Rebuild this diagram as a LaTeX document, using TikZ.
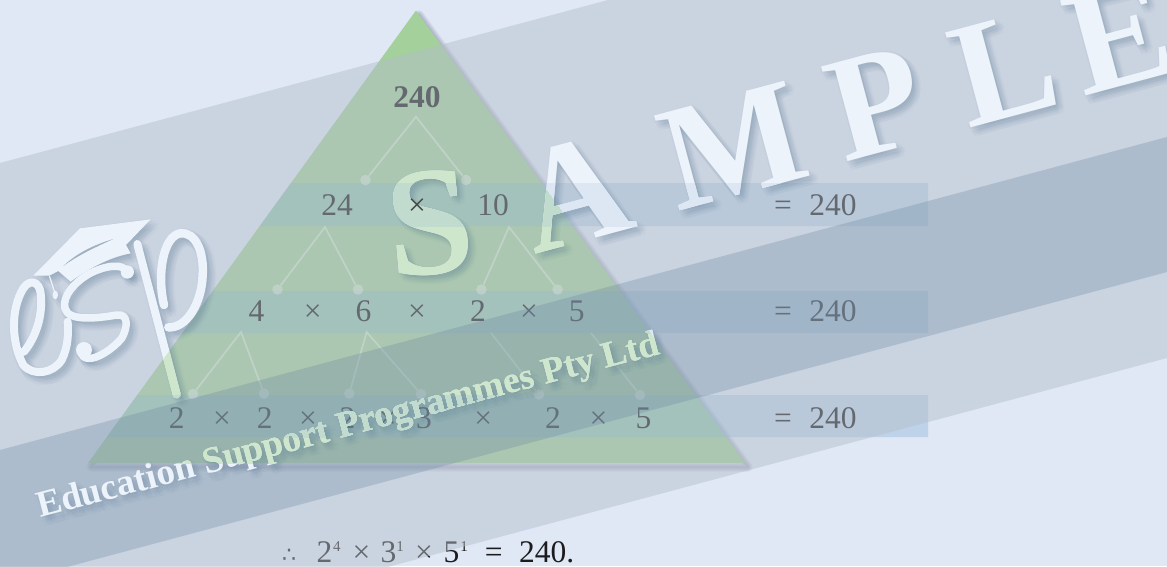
\documentclass[tikz,border=0pt]{standalone}
\usepackage{fontspec}
\setmainfont{Liberation Serif}
\newfontfamily\djv{DejaVu Sans}
\definecolor{pagec}{RGB}{224,231,245}
\definecolor{greenc}{RGB}{163,208,155}
\definecolor{bandc}{RGB}{130,178,217}
\definecolor{ovA}{RGB}{180,191,202}
\definecolor{ovB}{RGB}{105,135,160}
\definecolor{inkc}{RGB}{28,28,30}
\definecolor{wmA}{RGB}{237,243,251}
\definecolor{wmB}{RGB}{220,231,243}
\definecolor{wmC}{RGB}{205,230,204}
\definecolor{wmD}{RGB}{193,219,206}
\definecolor{shc}{RGB}{80,115,145}
\colorlet{wmc}{wmA}
\tikzset{
  digit/.style={anchor=base,inner sep=0pt,text=inkc,font=\fontsize{31.5}{32}\selectfont},
  joint/.style={circle,minimum size=10.5pt,inner sep=0pt,fill=white,fill opacity=.42},
  twig/.style={white,opacity=.45,line width=1.7pt},
  bigl/.style={anchor=center,inner sep=0pt,text=wmc,font=\fontsize{150}{150}\bfseries\selectfont},
}
\def\tripath{(416,10.5) -- (745,463) -- (88,463) -- cycle}
\def\bandspath{(291,183) -- (928,183) -- (928,226) -- (259.8,226) -- cycle
  (212.7,291) -- (928,291) -- (928,333) -- (182.7,333) -- cycle
  (137.2,395) -- (928,395) -- (928,437) -- (106.7,437) -- cycle}
\newcommand\wmpass{a}
\newcommand\logo{%
  \begin{scope}[shift={(0,210)},x=.33333pt,y=-.33333pt]
    \fill[wmc] (452,28) -- (240,55) -- (100,197) -- (148,197) -- (175,183) -- (212,215)
       .. controls (280,165) and (340,140) .. (392,130) -- (378,105) -- cycle;
    \fill[ovA!75!ovB] (190,168) .. controls (235,125) and (290,102) .. (340,87)
       .. controls (290,110) and (235,135) .. (190,168) -- cycle;
    \draw[wmc,line width=1.2pt] (148,197) -- (165,250);
    \fill[wmc] (166,255) ellipse (8 and 13);
    \draw[wmc,line width=8pt,line cap=round,line join=round]
      (72,425) .. controls (105,385) and (130,320) .. (122,250)
      .. controls (118,215) and (90,205) .. (70,235)
      .. controls (30,300) and (35,400) .. (70,465)
      .. controls (100,500) and (160,490) .. (185,450)
      .. controls (205,410) and (205,370) .. (203,335);
    \draw[wmc,line width=7.5pt,line cap=round,line join=round]
      (380,185) .. controls (370,160) and (320,165) .. (270,190)
      .. controls (225,215) and (185,260) .. (195,295)
      .. controls (205,335) and (290,325) .. (350,315)
      .. controls (385,310) and (385,350) .. (365,385)
      .. controls (340,415) and (290,450) .. (262,445)
      .. controls (240,440) and (240,420) .. (255,415);
    \fill[wmc] (382,186) circle (20);
    \fill[wmc] (252,420) circle (24);
    \draw[wmc,line width=8pt,line cap=round] (412,102) -- (490,400) -- (530,553);
    \draw[wmc,line width=8.5pt,line cap=round,line join=round]
      (492,285) .. controls (470,190) and (490,80) .. (540,70)
      .. controls (590,65) and (612,130) .. (608,195)
      .. controls (605,280) and (560,355) .. (505,352);
  \end{scope}}
\newcommand\wmall{%
  \node[bigl,font=\fontsize{155}{155}\bfseries\selectfont,rotate=5] (S\wmpass) at (430,223) {S};
  \node[bigl,rotate=15] (A\wmpass) at (574,193) {A};
  \node[bigl,rotate=15] (M\wmpass) at (733,146) {M};
  \node[bigl,rotate=15] (P\wmpass) at (876,103) {P};
  \node[bigl,rotate=15] (L\wmpass) at (1004,68) {L};
  \node[bigl,rotate=15] (E\wmpass) at (1119,36) {E};
  \node[anchor=base west,inner sep=0pt,text=wmc,rotate=14.8,
        font=\fontsize{37}{37}\bfseries\selectfont] (esp\wmpass) at (40,518) {Education Support Programmes Pty Ltd};
  \logo}
\begin{document}
\begin{tikzpicture}[x=1pt,y=-1pt]
  \useasboundingbox (0,0) rectangle (1167,566);
  \clip (0,0) rectangle (1167,566);
  \fill[pagec] (0,0) rectangle (1167,566);
  % pyramid with soft shadow
  \foreach \w in {1,3,5,7,9}
    \draw[shift={(3,4)},color={rgb,255:red,70;green,70;blue,110},opacity=.07,line width=\w pt,line join=round,fill opacity=.07] \tripath;
  \fill[greenc] \tripath;
  \fill[bandc,opacity=.36] \bandspath;
  % tree
  \coordinate (a240) at (416,116.7);
  \coordinate (a24) at (325,227);
  \coordinate (a10) at (509,227);
  \coordinate (a4) at (241,332);
  \coordinate (a6) at (366.6,332);
  \coordinate (a2) at (491,333);
  \coordinate (a5) at (591,333);
  \node[joint] (j1) at (365.5,180) {};
  \node[joint] (j2) at (466,180) {};
  \node[joint] (j3) at (277.5,289.5) {};
  \node[joint] (j4) at (358,289.5) {};
  \node[joint] (j5) at (481.4,289.5) {};
  \node[joint] (j6) at (557.6,289.5) {};
  \node[joint] (j7) at (193,394) {};
  \node[joint] (j8) at (264,393.5) {};
  \node[joint] (j9) at (349.4,393.5) {};
  \node[joint] (j10) at (421,394) {};
  \node[joint] (j11) at (539,394.5) {};
  \node[joint] (j12) at (640,395) {};
  \draw[twig] (j1) -- (a240) -- (j2);
  \draw[twig] (j3) -- (a24) -- (j4);
  \draw[twig] (j5) -- (a10) -- (j6);
  \draw[twig] (j7) -- (a4) -- (j8);
  \draw[twig] (j9) -- (a6) -- (j10);
  \draw[twig] (a2) -- (j11);
  \draw[twig] (a5) -- (j12);
  % numbers
  \node[digit,font=\fontsize{31.5}{32}\bfseries\selectfont] (top) at (417,107.5) {240};
  \node[digit] (r1a) at (337,215) {24};
  \node[digit] (r1b) at (493,215) {10};
  \node[digit] (r1e) at (783,215) {=};
  \node[digit] (r1r) at (833,215) {240};
  \node[digit] (r2a) at (256.4,321.7) {4};
  \node[digit] (r2b) at (312.7,321.7) {×};
  \node[digit] (r2c) at (363.6,321.7) {6};
  \node[digit] (r2d) at (417,321.7) {×};
  \node[digit] (r2f) at (478,321.7) {2};
  \node[digit] (r2g) at (529,321.7) {×};
  \node[digit] (r2h) at (576.7,321.7) {5};
  \node[digit] (r2e) at (783,321.7) {=};
  \node[digit] (r2r) at (833,321.7) {240};
  \node[digit] (r3a) at (176.8,428) {2};
  \node[digit] (r3b) at (222,428) {×};
  \node[digit] (r3c) at (264.8,428) {2};
  \node[digit] (r3d) at (308,428) {×};
  \node[digit] (r3f) at (347.5,428) {2};
  \node[digit] (r3g) at (387.7,428) {×};
  \node[digit] (r3h) at (424,428) {3};
  \node[digit] (r3i) at (483.3,428) {×};
  \node[digit] (r3j) at (553,428) {2};
  \node[digit] (r3k) at (598.4,428) {×};
  \node[digit] (r3l) at (643.5,428) {5};
  \node[digit] (r3e) at (783,428) {=};
  \node[digit] (r3r) at (833,428) {240};
  % conclusion
  \node[digit,font=\fontsize{22}{22}\djv\selectfont] (thf) at (289,562.7) {∴};
  \node[digit] (c2) at (324.5,562.7) {2};
  \node[digit,font=\fontsize{15}{15}\selectfont] (c2s) at (336.8,551) {4};
  \node[digit] (cx1) at (361.6,562.7) {×};
  \node[digit] (c3) at (388.4,562.7) {3};
  \node[digit,font=\fontsize{15}{15}\selectfont] (c3s) at (400,551) {1};
  \node[digit] (cx2) at (424,562.7) {×};
  \node[digit] (c5) at (451.6,562.7) {5};
  \node[digit,font=\fontsize{15}{15}\selectfont] (c5s) at (464,551) {1};
  \node[digit] (ce) at (493.7,562.7) {=};
  \node[digit,anchor=base west] (cr) at (519,562.7) {240.};
  % overlay bands
  \fill[ovA,opacity=.48] (0,163) -- (608,0) -- (1167,0) -- (1167,358) -- (0,671) -- cycle;
  \fill[ovB,opacity=.3] (0,450) -- (1167,137) -- (1167,272) -- (0,585) -- cycle;
  % watermark shadows
  \foreach \dx/\dy/\k in {2/2/a,4/4/b,6/6/c,1/5/d,5/1/e,7/3/f,3/7/g,-1/2/h,2/-1/i,8/8/j,9/4/k,4/9/l}{
    \begin{scope}[shift={(\dx,\dy)},opacity=.035]
      \colorlet{wmc}{shc}
      \renewcommand\wmpass{s\k}
      \wmall
    \end{scope}}
  % watermark
  \renewcommand\wmpass{a}
  \colorlet{wmc}{wmA}
  \wmall
  \begin{scope}
    \clip \bandspath;
    \renewcommand\wmpass{b}
    \colorlet{wmc}{wmB}
    \wmall
  \end{scope}
  \begin{scope}
    \clip \tripath;
    \renewcommand\wmpass{c}
    \colorlet{wmc}{wmC}
    \wmall
    \clip \bandspath;
    \renewcommand\wmpass{d}
    \colorlet{wmc}{wmD}
    \wmall
  \end{scope}
  \node[digit,text=black!72] (r1x) at (417,215) {×};
\end{tikzpicture}
\end{document}
